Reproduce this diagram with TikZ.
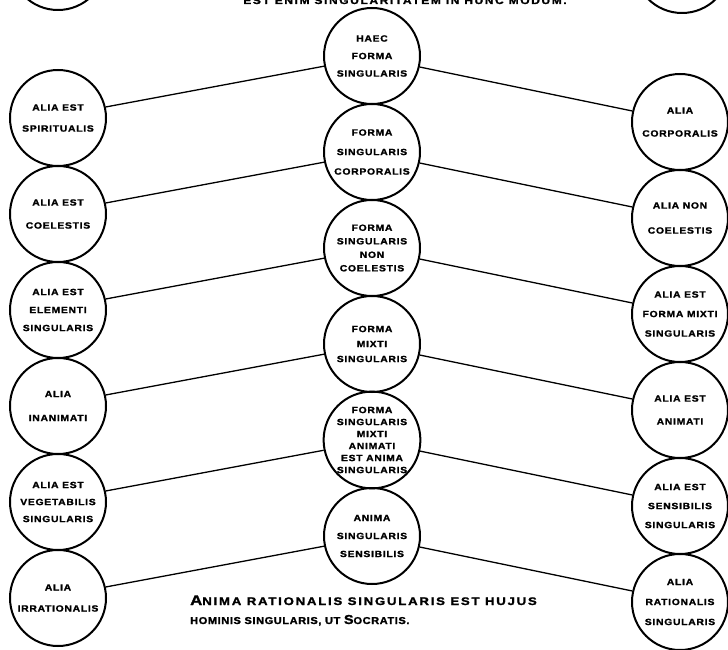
\documentclass[tikz,border=0pt]{standalone}
\usepackage{fontspec}
\newfontfamily\lblfont[FakeStretch=1.15,LetterSpace=8,FakeBold=1.6]{Liberation Sans}
\newfontfamily\capfontA[FakeStretch=1.2,LetterSpace=16,FakeBold=1.6]{Liberation Sans}
\newfontfamily\capfontB[FakeStretch=1.1,LetterSpace=6,FakeBold=1.6]{Liberation Sans}
\begin{document}
\begin{tikzpicture}[x=1pt,y=-1pt,
  disc/.style={circle,draw,line width=2pt,minimum size=96pt,inner sep=0pt,align=center},
  ls/.style={font=\lblfont\bfseries\fontsize{9}{#1}\selectfont},
  link/.style={line width=1.3pt}]
\useasboundingbox (0,0) rectangle (728,650);
\clip (0,0) rectangle (728,650);
% partial circles and text cut at the top
\node[disc] (tl) at (58,-38) {};
\node[disc] (tr) at (682,-35) {};
\node[anchor=base,font=\capfontA\bfseries\fontsize{10}{12}\selectfont] (top) at (405,4) {EST ENIM SINGULARITATEM IN HUNC MODUM.};
% centre column
\node[disc,ls=17.5] (c1) at (372,56) {HAEC\\FORMA\\SINGULARIS};
\node[disc,ls=19.5] (c2) at (372,152) {FORMA\\SINGULARIS\\CORPORALIS};
\node[disc,ls=13.5] (c3) at (372,248) {FORMA\\SINGULARIS\\NON\\COELESTIS};
\node[disc,ls=15] (c4) at (372,344) {FORMA\\MIXTI\\SINGULARIS};
\node[disc,ls=12] (c5) at (372,440) {FORMA\\SINGULARIS\\MIXTI\\ANIMATI\\EST ANIMA\\SINGULARIS};
\node[disc,ls=18] (c6) at (372,536) {ANIMA\\SINGULARIS\\SENSIBILIS};
% left column
\node[disc,ls=21] (l1) at (58,118) {ALIA EST\\SPIRITUALIS};
\node[disc,ls=23] (l2) at (58,214) {ALIA EST\\COELESTIS};
\node[disc,ls=18] (l3) at (58,310) {ALIA EST\\ELEMENTI\\SINGULARIS};
\node[disc,ls=24] (l4) at (58,406) {ALIA\\INANIMATI};
\node[disc,ls=17] (l5) at (58,502) {ALIA EST\\VEGETABILIS\\SINGULARIS};
\node[disc,ls=21] (l6) at (58,598) {ALIA\\IRRATIONALIS};
% right column
\node[disc,ls=23] (r1) at (680,122) {ALIA\\CORPORALIS};
\node[disc,ls=25] (r2) at (680,218) {ALIA NON\\COELESTIS};
\node[disc,ls=19.5] (r3) at (680,314) {ALIA EST\\FORMA MIXTI\\SINGULARIS};
\node[disc,ls=23] (r4) at (680,410) {ALIA EST\\ANIMATI};
\node[disc,ls=19] (r5) at (680,506) {ALIA EST\\SENSIBILIS\\SINGULARIS};
\node[disc,ls=20] (r6) at (680,602) {ALIA\\RATIONALIS\\SINGULARIS};
% connectors
\foreach \i in {1,...,6} {
  \draw[link] (l\i.13) -- (c\i.192);
  \draw[link] (c\i.347) -- (r\i.167);
}
% caption
\node[anchor=base west,inner sep=0pt,font=\capfontA\bfseries\fontsize{11}{13}\selectfont] (t1) at (190,605)
  {{\fontsize{14}{14}\selectfont A}NIMA RATIONALIS SINGULARIS EST HUJUS};
\node[anchor=base west,inner sep=0pt,font=\capfontB\bfseries\fontsize{10}{12}\selectfont] (t2) at (190,624)
  {HOMINIS SINGULARIS, UT {\fontsize{13}{13}\selectfont S}OCRATIS.};
\end{tikzpicture}
\end{document}
